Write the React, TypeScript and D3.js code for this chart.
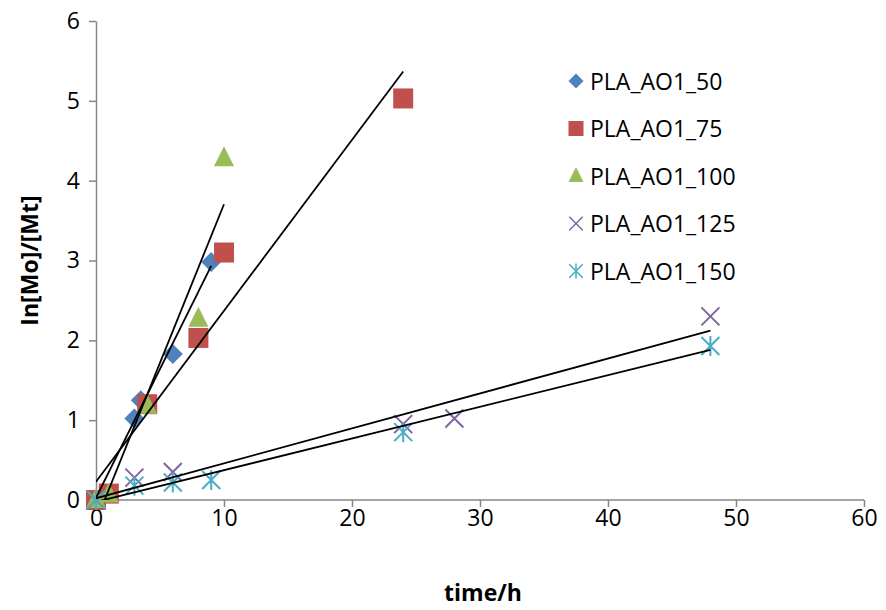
import React, { useEffect, useRef } from 'react';
import * as d3 from 'd3';

const seriesNames = ['PLA_AO1_50', 'PLA_AO1_75', 'PLA_AO1_100', 'PLA_AO1_125', 'PLA_AO1_150'];
const seriesColors = ['#4F81BD', '#C0504D', '#9BBB59', '#8064A2', '#4BACC6'];
const seriesShapes = ['diamond', 'square', 'triangle', 'cross', 'star'];

const times50 = [0, 3, 3.5, 6, 9];
const values50 = [0, 1.02, 1.25, 1.83, 2.98];
const times75 = [0, 1, 4, 8, 10, 24];
const values75 = [0, 0.08, 1.2, 2.03, 3.1, 5.03];
const times100 = [0, 1, 4, 8, 10];
const values100 = [0, 0.07, 1.18, 2.27, 4.28];
const times125 = [0, 3, 6, 24, 28, 48];
const values125 = [0, 0.28, 0.35, 0.95, 1.02, 2.3];
const times150 = [0, 3, 6, 9, 24, 48];
const values150 = [0, 0.18, 0.22, 0.25, 0.85, 1.93];

const xTicks = [0, 10, 20, 30, 40, 50, 60];
const yTicks = [0, 1, 2, 3, 4, 5, 6];

const allTimes = [times50, times75, times100, times125, times150];
const allValues = [values50, values75, values100, values125, values150];

const width = 886;
const height = 610;
const margin = { top: 21, right: 22, bottom: 110, left: 96 };
const font = '"Open Sans", "Liberation Sans", sans-serif';

// least squares fit, like the Excel linear trendline
const fit = (xs: number[], ys: number[]) => {
  const mx = d3.mean(xs) as number;
  const my = d3.mean(ys) as number;
  const sxy = d3.sum(xs, (x, i) => (x - mx) * (ys[i] - my));
  const sxx = d3.sum(xs, x => (x - mx) * (x - mx));
  const slope = sxy / sxx;
  return { slope, intercept: my - slope * mx };
};

const App = () => {
  const chartRef = useRef<SVGSVGElement>(null);

  useEffect(() => {
    const svg = d3.select(chartRef.current);
    svg.selectAll('*').remove();

    const xScale = d3.scaleLinear().domain([0, 60]).range([margin.left, width - margin.right]);
    const yScale = d3.scaleLinear().domain([0, 6]).range([height - margin.bottom, margin.top]);

    svg.append('defs').append('clipPath').attr('id', 'plot')
      .append('rect')
      .attr('x', margin.left).attr('y', margin.top)
      .attr('width', width - margin.left - margin.right)
      .attr('height', height - margin.top - margin.bottom);

    const xAxis = d3.axisBottom(xScale).tickValues(xTicks).tickFormat(d3.format('d')).tickSize(7).tickSizeOuter(0).tickPadding(3);
    const gx = svg.append('g')
      .attr('transform', `translate(0, ${height - margin.bottom})`)
      .call(xAxis);

    const yAxis = d3.axisLeft(yScale).tickValues(yTicks).tickFormat(d3.format('d')).tickSize(7).tickSizeOuter(0).tickPadding(9);
    const gy = svg.append('g')
      .attr('transform', `translate(${margin.left}, 0)`)
      .call(yAxis);

    [gx, gy].forEach(g => {
      g.selectAll('path, line').attr('stroke', '#868686').attr('stroke-width', 1.5);
      g.selectAll('text').attr('font-family', font).attr('font-size', 23).attr('fill', '#000');
    });
    gx.select('.domain').attr('d', `M${margin.left},0H${width - margin.right}`);

    svg.append('text')
      .attr('x', (margin.left + width - margin.right) / 2 + 3)
      .attr('y', 601)
      .attr('text-anchor', 'middle')
      .attr('font-family', font).attr('font-size', 23).attr('font-weight', 'bold')
      .text('time/h');

    svg.append('text')
      .attr('transform', `translate(38, ${(margin.top + height - margin.bottom) / 2}) rotate(-90)`)
      .attr('text-anchor', 'middle')
      .attr('font-family', font).attr('font-size', 23).attr('font-weight', 'bold')
      .text('In[Mo]/[Mt]');

    const drawMarker = (g: any, shape: string, color: string) => {
      if (shape === 'diamond') {
        g.append('path').attr('d', 'M0,-10L10,0L0,10L-10,0Z').attr('fill', color);
      } else if (shape === 'square') {
        g.append('rect').attr('x', -10).attr('y', -10).attr('width', 20).attr('height', 20).attr('fill', color);
      } else if (shape === 'triangle') {
        g.append('path').attr('d', 'M0,-12L10,8L-10,8Z').attr('fill', color);
      } else if (shape === 'cross') {
        g.append('path').attr('d', 'M-9,-9L9,9M-9,9L9,-9').attr('stroke', color).attr('stroke-width', 2).attr('fill', 'none');
      } else {
        g.append('path').attr('d', 'M-9,-9L9,9M-9,9L9,-9M0,-10V10').attr('stroke', color).attr('stroke-width', 2).attr('fill', 'none');
      }
    };

    allTimes.forEach((times, s) => {
      const vals = allValues[s];
      const g = svg.append('g');
      times.forEach((t, i) => {
        const m = g.append('g').attr('transform', `translate(${xScale(t)}, ${yScale(vals[i])})`);
        drawMarker(m, seriesShapes[s], seriesColors[s]);
      });
    });

    allTimes.forEach((times, s) => {
      const { slope, intercept } = fit(times, allValues[s]);
      const x0 = d3.min(times) as number;
      const x1 = d3.max(times) as number;
      svg.append('line')
        .attr('clip-path', 'url(#plot)')
        .attr('x1', xScale(x0)).attr('y1', yScale(intercept + slope * x0))
        .attr('x2', xScale(x1)).attr('y2', yScale(intercept + slope * x1))
        .attr('stroke', '#000').attr('stroke-width', 1.8);
    });

    const legend = svg.append('g').attr('transform', 'translate(576, 81)');
    seriesNames.forEach((name, s) => {
      const row = legend.append('g').attr('transform', `translate(0, ${s * 47.5})`);
      const m = row.append('g').attr('transform', 'scale(0.75)');
      drawMarker(m, seriesShapes[s], seriesColors[s]);
      row.append('text')
        .attr('x', 14).attr('y', 8.5)
        .attr('font-family', font).attr('font-size', 23)
        .text(name);
    });
  });

  return (
    <svg
      ref={chartRef}
      width={width}
      height={height}
      viewBox={`0 0 ${width} ${height}`}
      style={{ position: 'absolute', left: 0, top: 0, background: '#fff' }}
    />
  );
};

export default App;
